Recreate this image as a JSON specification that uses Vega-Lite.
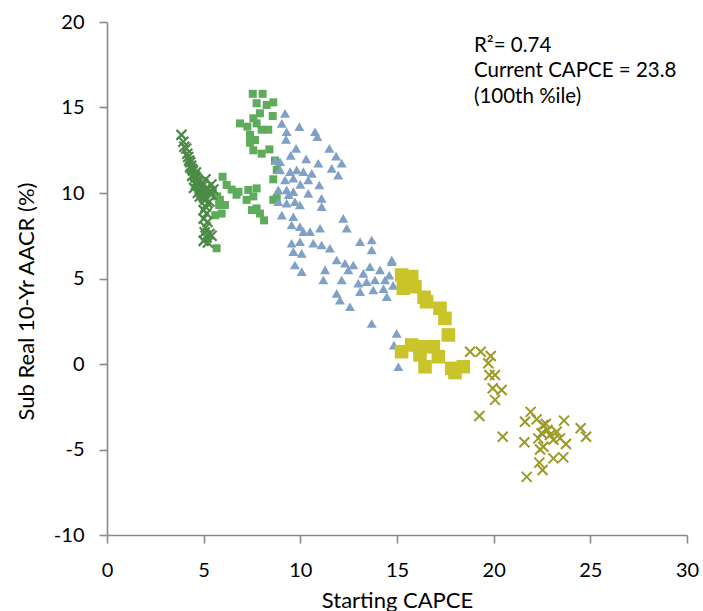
{
  "$schema": "https://vega.github.io/schema/vega-lite/v6.json",
  "width": 580,
  "height": 513,
  "autosize": "none",
  "padding": {"left": 107, "top": 22, "right": 16, "bottom": 76},
  "background": "white",
  "config": {
    "view": {"stroke": null},
    "font": "Lato",
    "axis": {"grid": false, "offset": 0, "labelFlush": false, "labelOverlap": false, "domainColor": "#8a8a8a", "tickColor": "#8a8a8a", "domainWidth": 1.6, "tickWidth": 1.6, "tickSize": 8, "labelColor": "#000", "titleColor": "#000", "labelFontSize": 20, "titleFontSize": 22, "titleFontWeight": "normal", "labelFont": "Lato", "titleFont": "Lato", "labelExpr": "replace(datum.label, '−', '-')"}
  },
  "datasets": {
    "darkx": [
      {"x":3.85,"y":13.4},{"x":3.95,"y":13.0},{"x":4.0,"y":12.7},{"x":4.1,"y":12.6},{"x":4.15,"y":12.3},{"x":4.2,"y":12.1},{"x":4.25,"y":11.9},{"x":4.3,"y":11.8},{"x":4.35,"y":11.6},{"x":4.4,"y":11.4},{"x":4.45,"y":11.3},{"x":4.5,"y":11.1},{"x":4.55,"y":11.0},{"x":4.6,"y":10.9},{"x":4.65,"y":10.7},{"x":4.7,"y":10.6},{"x":4.5,"y":10.3},{"x":4.6,"y":10.5},{"x":4.75,"y":10.4},{"x":4.8,"y":10.2},{"x":4.85,"y":10.1},{"x":4.9,"y":10.0},{"x":4.95,"y":9.9},{"x":5.0,"y":9.8},{"x":5.05,"y":9.7},{"x":5.1,"y":9.6},{"x":4.7,"y":10.0},{"x":4.8,"y":9.8},{"x":5.2,"y":10.3},{"x":5.3,"y":10.1},{"x":5.0,"y":10.5},{"x":5.1,"y":10.8},{"x":4.9,"y":10.6},{"x":5.2,"y":9.4},{"x":5.1,"y":9.2},{"x":5.0,"y":9.0},{"x":5.15,"y":8.8},{"x":5.0,"y":8.5},{"x":5.2,"y":8.3},{"x":5.1,"y":8.0},{"x":5.05,"y":7.7},{"x":5.15,"y":7.4},{"x":5.0,"y":7.2},{"x":5.3,"y":7.6},{"x":5.4,"y":9.9},{"x":5.5,"y":10.2},{"x":4.4,"y":11.0},{"x":4.3,"y":11.5},{"x":4.6,"y":11.2},{"x":5.3,"y":9.5},{"x":5.4,"y":10.5},{"x":5.22,"y":7.1},{"x":5.41,"y":7.5}
    ],
    "lgsq": [
      {"x":7.54,"y":15.8},{"x":8.05,"y":15.8},{"x":7.74,"y":15.25},{"x":8.26,"y":15.15},{"x":8.6,"y":15.3},{"x":8.57,"y":14.5},{"x":7.91,"y":14.66},{"x":7.57,"y":14.37},{"x":6.88,"y":14.07},{"x":7.26,"y":13.88},{"x":7.74,"y":14.07},{"x":8.0,"y":13.7},{"x":8.34,"y":13.7},{"x":7.4,"y":13.4},{"x":7.66,"y":13.1},{"x":7.4,"y":12.94},{"x":7.57,"y":12.5},{"x":8.0,"y":12.3},{"x":8.4,"y":12.55},{"x":8.69,"y":11.9},{"x":8.78,"y":11.35},{"x":8.6,"y":10.8},{"x":8.78,"y":9.7},{"x":5.98,"y":10.95},{"x":6.19,"y":10.47},{"x":6.45,"y":10.2},{"x":6.8,"y":10.07},{"x":6.7,"y":9.9},{"x":5.84,"y":9.6},{"x":6.1,"y":9.3},{"x":5.93,"y":8.8},{"x":5.67,"y":6.77},{"x":5.8,"y":9.3},{"x":5.6,"y":8.7},{"x":5.7,"y":9.8},{"x":7.31,"y":10.18},{"x":7.74,"y":10.27},{"x":7.22,"y":9.6},{"x":7.57,"y":9.8},{"x":7.74,"y":9.1},{"x":7.91,"y":8.8},{"x":8.12,"y":8.4},{"x":7.5,"y":9.0},{"x":8.6,"y":9.6}
    ],
    "blue": [
      {"x":9.21,"y":14.66},{"x":9.04,"y":14.07},{"x":9.29,"y":13.58},{"x":9.26,"y":13.14},{"x":9.95,"y":13.88},{"x":10.76,"y":13.58},{"x":10.88,"y":13.29},{"x":9.78,"y":12.61},{"x":11.5,"y":12.61},{"x":11.85,"y":12.16},{"x":12.14,"y":11.74},{"x":11.96,"y":11.05},{"x":11.62,"y":11.44},{"x":10.93,"y":11.74},{"x":8.95,"y":11.83},{"x":8.95,"y":11.35},{"x":9.47,"y":11.25},{"x":9.81,"y":11.35},{"x":10.16,"y":11.25},{"x":10.59,"y":11.15},{"x":9.21,"y":10.76},{"x":9.64,"y":10.86},{"x":10.41,"y":10.76},{"x":10.98,"y":10.47},{"x":8.86,"y":10.18},{"x":9.29,"y":10.18},{"x":9.64,"y":10.08},{"x":10.41,"y":9.98},{"x":11.1,"y":9.69},{"x":8.86,"y":9.49},{"x":9.29,"y":9.4},{"x":9.72,"y":9.49},{"x":9.98,"y":9.3},{"x":11.1,"y":9.2},{"x":9.04,"y":8.71},{"x":9.64,"y":8.61},{"x":9.55,"y":8.13},{"x":9.98,"y":8.03},{"x":10.16,"y":7.74},{"x":10.5,"y":7.74},{"x":11.02,"y":7.94},{"x":12.22,"y":8.52},{"x":12.4,"y":7.94},{"x":9.55,"y":7.06},{"x":9.98,"y":7.15},{"x":10.67,"y":7.06},{"x":11.1,"y":6.96},{"x":11.53,"y":6.77},{"x":9.64,"y":6.57},{"x":10.07,"y":6.47},{"x":9.72,"y":5.79},{"x":10.07,"y":5.4},{"x":11.88,"y":6.08},{"x":12.31,"y":5.89},{"x":12.74,"y":5.79},{"x":13.09,"y":7.15},{"x":13.69,"y":7.25},{"x":13.69,"y":6.67},{"x":11.28,"y":5.5},{"x":11.19,"y":4.91},{"x":12.14,"y":4.91},{"x":12.48,"y":5.5},{"x":13.26,"y":5.3},{"x":13.6,"y":5.69},{"x":14.12,"y":5.5},{"x":13.0,"y":4.72},{"x":13.43,"y":4.81},{"x":13.86,"y":4.91},{"x":14.38,"y":4.91},{"x":13.09,"y":4.23},{"x":13.77,"y":4.33},{"x":14.47,"y":3.94},{"x":14.73,"y":6.08},{"x":11.88,"y":4.13},{"x":12.05,"y":3.74},{"x":12.57,"y":3.35},{"x":13.69,"y":2.37},{"x":14.98,"y":1.79},{"x":14.84,"y":1.1},{"x":15.07,"y":-0.16},{"x":14.73,"y":5.98},{"x":14.6,"y":5.2},{"x":14.8,"y":4.6},{"x":14.3,"y":4.4},{"x":8.7,"y":11.9},{"x":9.5,"y":12.2},{"x":10.3,"y":12.0},{"x":10.0,"y":10.5},{"x":9.4,"y":9.9}
    ],
    "ysq": [
      {"x":15.24,"y":5.2},{"x":15.76,"y":5.11},{"x":15.33,"y":4.43},{"x":15.93,"y":4.52},{"x":15.5,"y":4.8},{"x":16.53,"y":3.64},{"x":16.4,"y":3.9},{"x":17.22,"y":3.26},{"x":17.48,"y":2.67},{"x":17.66,"y":1.7},{"x":15.24,"y":0.72},{"x":15.76,"y":1.11},{"x":16.19,"y":1.01},{"x":16.19,"y":0.53},{"x":16.88,"y":1.01},{"x":17.14,"y":0.43},{"x":16.45,"y":-0.16},{"x":17.83,"y":-0.26},{"x":18.43,"y":-0.16},{"x":18.0,"y":-0.5}
    ],
    "olx": [
      {"x":18.78,"y":0.72},{"x":19.33,"y":0.72},{"x":19.85,"y":0.47},{"x":19.72,"y":0.04},{"x":19.78,"y":-0.64},{"x":20.07,"y":-0.64},{"x":19.95,"y":-1.42},{"x":20.41,"y":-1.52},{"x":20.07,"y":-2.1},{"x":19.26,"y":-3.04},{"x":20.47,"y":-4.25},{"x":21.59,"y":-4.58},{"x":21.71,"y":-6.6},{"x":21.91,"y":-2.8},{"x":21.62,"y":-3.38},{"x":22.22,"y":-3.24},{"x":22.57,"y":-3.57},{"x":22.78,"y":-3.86},{"x":22.48,"y":-4.05},{"x":22.91,"y":-4.15},{"x":23.26,"y":-3.96},{"x":23.64,"y":-3.31},{"x":23.09,"y":-4.43},{"x":23.43,"y":-4.35},{"x":23.74,"y":-4.68},{"x":22.57,"y":-4.84},{"x":22.4,"y":-5.0},{"x":24.5,"y":-3.76},{"x":24.78,"y":-4.25},{"x":23.09,"y":-5.52},{"x":23.6,"y":-5.46},{"x":22.36,"y":-5.77},{"x":22.53,"y":-6.2},{"x":22.31,"y":-4.35},{"x":22.7,"y":-3.5}
    ],
    "notes": [
      {"x":18.98,"y":18.25,"t":"R²= 0.74"},
      {"x":18.98,"y":16.78,"t":"Current CAPCE = 23.8"},
      {"x":18.98,"y":15.26,"t":"(100th %ile)"}
    ]
  },
  "encoding": {
    "x": {"field": "x", "type": "quantitative", "scale": {"domain": [0, 30], "nice": false, "zero": false, "padding": 0}, "axis": {"values": [0,5,10,15,20,25,30], "title": "Starting CAPCE", "labelPadding": 17, "titleY": 72, "titleBaseline": "alphabetic"}},
    "y": {"field": "y", "type": "quantitative", "scale": {"domain": [-10, 20], "nice": false, "zero": false, "padding": 0}, "axis": {"values": [-10,-5,0,5,10,15,20], "title": "Sub Real 10-Yr AACR (%)", "labelPadding": 15, "titleX": -74, "titleY": 279, "titleBaseline": "alphabetic", "titleAngle": -90}}
  },
  "layer": [
    {"data": {"name": "lgsq"}, "mark": {"type": "point", "shape": "square", "filled": true, "size": 64, "color": "#5fab5c", "opacity": 1}},
    {"data": {"name": "blue"}, "mark": {"type": "point", "shape": "triangle-up", "filled": true, "size": 100, "color": "#80a0c6", "opacity": 1}},
    {"data": {"name": "ysq"}, "mark": {"type": "point", "shape": "square", "filled": true, "size": 185, "color": "#c9c42a", "opacity": 1}},
    {"data": {"name": "darkx"}, "mark": {"type": "point", "shape": "M-1,-1L1,1M-1,1L1,-1", "filled": false, "size": 100, "strokeWidth": 2.2, "color": "#4b8b46", "opacity": 1}},
    {"data": {"name": "olx"}, "mark": {"type": "point", "shape": "M-1,-1L1,1M-1,1L1,-1", "filled": false, "size": 100, "strokeWidth": 2, "color": "#9c9a24", "opacity": 1}},
    {"data": {"name": "notes"}, "mark": {"type": "text", "align": "left", "baseline": "alphabetic", "fontSize": 20.5, "font": "Lato", "color": "#000"}, "encoding": {"text": {"field": "t"}}}
  ]
}
